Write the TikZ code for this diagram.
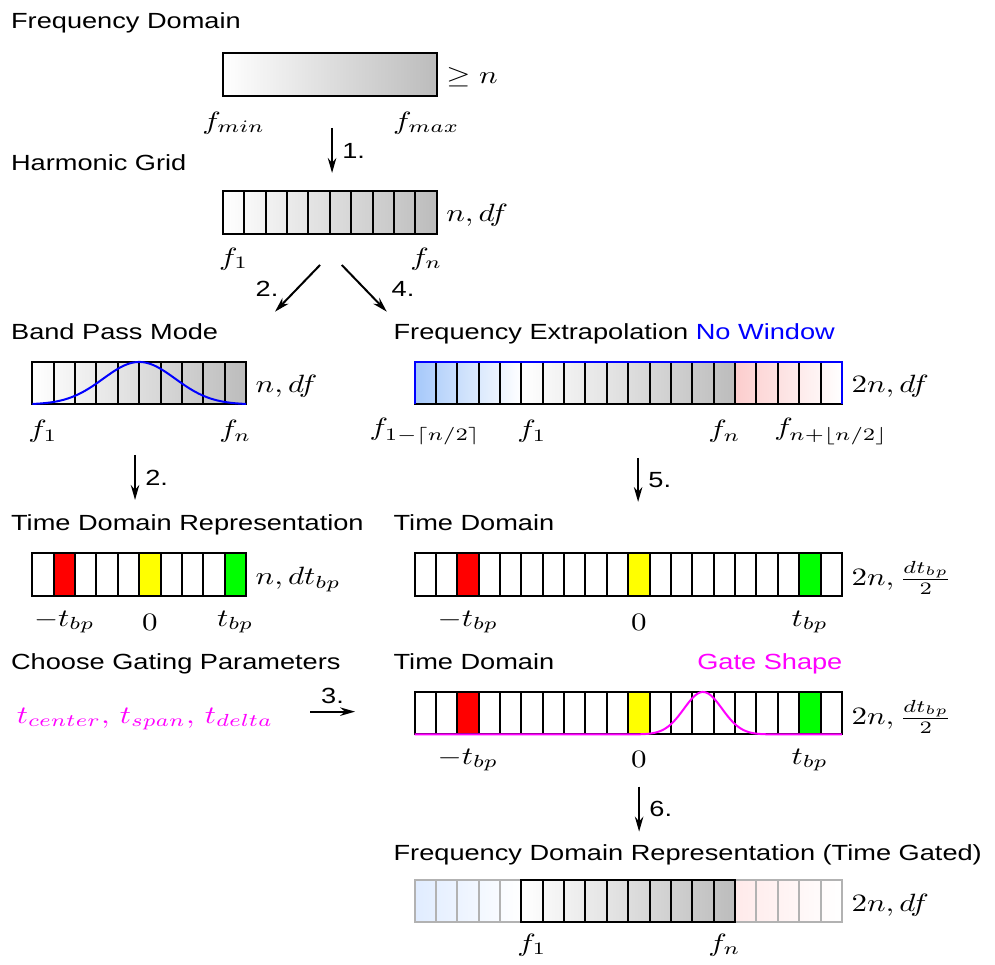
\documentclass[tikz,border=0pt]{standalone}
\usepackage{amsmath}
\usepackage{amssymb}
\usepackage{fontspec}
\setmainfont{Liberation Sans}[Scale=0.877]
\usepackage{tikz}
\usetikzlibrary{ % tikz packages
    positioning,
    arrows.meta
}
\tikzset{>={Stealth[length=6pt,width=3.4pt]}}
\tikzset{
    cell/.style={draw=black, thick},
    fadedcell/.style={draw=black!30, thick},
    steparrow/.style={->, thick},
    heading/.style={anchor=base west, inner sep=0pt},
    sidelabel/.style={anchor=base west}
}
\definecolor{lowblue}{RGB}{165,200,250}
\definecolor{highred}{RGB}{252,205,205}
\definecolor{fadeblue}{RGB}{224,236,255}
\definecolor{fadered}{RGB}{255,234,234}
\definecolor{highgray}{RGB}{188,188,188}
\definecolor{gatemagenta}{RGB}{255,0,255}
\definecolor{windowblue}{RGB}{0,0,255}
\definecolor{negred}{RGB}{255,0,0}
\definecolor{zeroyellow}{RGB}{255,255,0}
\definecolor{posgreen}{RGB}{0,255,0}
\newcommand{\cellw}{21.37}
\newcommand{\cellh}{42.5}

\begin{document}
\begin{tikzpicture}[x=0.3226pt,y=-0.4pt,xscale=1.24,transform shape]
        \useasboundingbox (0,0) rectangle (995,965);

        % input data
        \node[heading] (fdTitle) at (10.5,28.5) {Frequency Domain};
        \shade[left color=white,right color=highgray] (223,53.5) rectangle ++(213.7,\cellh);
        \draw[cell] (223,53.5) rectangle ++(213.7,\cellh);
        \node[sidelabel] (fdSize) at (436.7,84) {$\geq n$};
        \node (fmin) at (233.7,123) {$f_{min}$};
        \node (fmax) at (426.3,123) {$f_{max}$};

        \coordinate (s1) at (332,128);
        \coordinate (e1) at (332,173);
        \draw[steparrow] (s1) -- node[right] (n1) {1.} (e1);

        % harmonic grid
        \node[heading] (hgTitle) at (10.5,171) {Harmonic Grid};
        \shade[left color=white,right color=highgray] (223,191.5) rectangle ++(213.7,\cellh);
        \foreach \i in {0,...,9}
            \draw[cell] ({223+\i*\cellw},191.5) rectangle ++(\cellw,\cellh);
        \node[sidelabel] (hgSize) at (436.7,222) {$n, df$};
        \node (hgf1) at (233.7,259) {$f_1$};
        \node (hgfn) at (426.3,259) {$f_n$};

        \coordinate (s2) at (320,265);
        \coordinate (e2) at (275,311.7);
        \coordinate (s4) at (341.7,265);
        \coordinate (e4) at (386.7,311.7);
        \draw[steparrow] (s2) -- (e2);
        \draw[steparrow] (s4) -- (e4);
        \node (n2) at (267,289) {2.};
        \node (n4) at (403,289) {4.};

        % band pass
        \node[heading] (bpTitle) at (10.5,340) {Band Pass Mode};
        \shade[left color=white,right color=highgray] (32.3,362) rectangle ++(213.7,\cellh);
        \foreach \i in {0,...,9}
            \draw[cell] ({32.3+\i*\cellw},362) rectangle ++(\cellw,\cellh);
        \draw[windowblue,thick] plot[domain=32.3:246,samples=120] (\x,{404.5-42.5*exp(-((\x-139.2)/36)^2/2)});
        \node[sidelabel] (bpSize) at (246,392.5) {$n, df$};
        \node (bpf1) at (43,431.5) {$f_1$};
        \node (bpfn) at (235.3,431.5) {$f_n$};

        % frequency extrapolation
        \node[heading] (feTitle) at (393,340) {Frequency Extrapolation \textcolor{windowblue}{No Window}};
        \shade[left color=lowblue,right color=white] (414.5,362) rectangle ++(106.85,\cellh);
        \shade[left color=white,right color=highgray] (521.35,362) rectangle ++(213.7,\cellh);
        \shade[left color=highred,right color=white] (735.05,362) rectangle ++(106.85,\cellh);
        \foreach \i in {0,...,19}
            \draw[cell] ({414.5+\i*\cellw},362) rectangle ++(\cellw,\cellh);
        \draw[windowblue,thick] (414.5,404.5) -- (414.5,362) -- (841.9,362) -- (841.9,404.5);
        \node[sidelabel] (feSize) at (841.9,392.5) {$2n, df$};
        \node (fef0) at (425.2,431.5) {$f_{1-\lceil n/2\rceil}$};
        \node (fef1) at (532,431.5) {$f_1$};
        \node (fefn) at (724.4,431.5) {$f_n$};
        \node (fefm) at (831.2,431.5) {$f_{n+\lfloor n/2\rfloor}$};

        \coordinate (s2b) at (135,455);
        \coordinate (e2b) at (135,500);
        \draw[steparrow] (s2b) -- node[right] (n2b) {2.} (e2b);
        \coordinate (s5) at (638,458);
        \coordinate (e5) at (638,502);
        \draw[steparrow] (s5) -- node[right] (n5) {5.} (e5);

        % time domain (band pass)
        \node[heading] (tdrTitle) at (10.5,531) {Time Domain Representation};
        \foreach \i in {0,...,9}
            \draw[cell] ({32.3+\i*\cellw},553.5) rectangle ++(\cellw,\cellh);
        \foreach \i/\c in {1/negred,5/zeroyellow,9/posgreen}
            \draw[cell,fill=\c] ({32.3+\i*\cellw},553.5) rectangle ++(\cellw,\cellh);
        \node[sidelabel] (tdrSize) at (246,585) {$n, dt_{bp}$};
        \node (tdrneg) at (64.4,622) {$-t_{bp}$};
        \node (tdrzero) at (149.8,622) {$0$};
        \node (tdrpos) at (235.3,622) {$t_{bp}$};

        % time domain (extrapolated)
        \node[heading] (tdTitle) at (393,531) {Time Domain};
        \foreach \i in {0,...,19}
            \draw[cell] ({414.5+\i*\cellw},553.5) rectangle ++(\cellw,\cellh);
        \foreach \i/\c in {2/negred,10/zeroyellow,18/posgreen}
            \draw[cell,fill=\c] ({414.5+\i*\cellw},553.5) rectangle ++(\cellw,\cellh);
        \node[sidelabel] (tdSize) at (841.9,586) {$2n, \frac{dt_{bp}}{2}$};
        \node (tdneg) at (468,622) {$-t_{bp}$};
        \node (tdzero) at (638.9,622) {$0$};
        \node (tdpos) at (809.8,622) {$t_{bp}$};

        % gating
        \node[heading] (cgTitle) at (10.5,670) {Choose Gating Parameters};
        \node[gatemagenta] (params) at (145,719) {$t_{center},\, t_{span},\, t_{delta}$};
        \coordinate (s3) at (310,711.7);
        \coordinate (e3) at (355,711.7);
        \draw[steparrow] (s3) -- node[above] (n3) {3.} (e3);

        \node[heading] (tgTitle) at (393,670) {Time Domain};
        \node[heading,anchor=base east,gatemagenta] (gsTitle) at (843,670) {Gate Shape};
        \foreach \i in {0,...,19}
            \draw[cell] ({414.5+\i*\cellw},692) rectangle ++(\cellw,\cellh);
        \foreach \i/\c in {2/negred,10/zeroyellow,18/posgreen}
            \draw[cell,fill=\c] ({414.5+\i*\cellw},692) rectangle ++(\cellw,\cellh);
        \draw[gatemagenta,thick] plot[domain=414.5:841.9,samples=200] (\x,{734.5-42.5*exp(-((\x-703)/19)^2/2)});
        \node[sidelabel] (tgSize) at (841.9,725) {$2n, \frac{dt_{bp}}{2}$};
        \node (tgneg) at (468,760) {$-t_{bp}$};
        \node (tgzero) at (638.9,760) {$0$};
        \node (tgpos) at (809.8,760) {$t_{bp}$};

        \coordinate (s6) at (639,786.7);
        \coordinate (e6) at (639,831.7);
        \draw[steparrow] (s6) -- node[right] (n6) {6.} (e6);

        % back to frequency domain
        \node[heading] (fgTitle) at (393,861) {Frequency Domain Representation (Time Gated)};
        \shade[left color=fadeblue,right color=white] (414.5,880) rectangle ++(106.85,\cellh);
        \shade[left color=white,right color=highgray] (521.35,880) rectangle ++(213.7,\cellh);
        \shade[left color=fadered,right color=white] (735.05,880) rectangle ++(106.85,\cellh);
        \foreach \i in {0,...,4,15,16,...,19}
            \draw[fadedcell] ({414.5+\i*\cellw},880) rectangle ++(\cellw,\cellh);
        \foreach \i in {5,...,14}
            \draw[cell] ({414.5+\i*\cellw},880) rectangle ++(\cellw,\cellh);
        \node[sidelabel] (fgSize) at (841.9,911.5) {$2n, df$};
        \node (fgf1) at (532,945) {$f_1$};
        \node (fgfn) at (724.4,945) {$f_n$};
    \end{tikzpicture}
\end{document}
